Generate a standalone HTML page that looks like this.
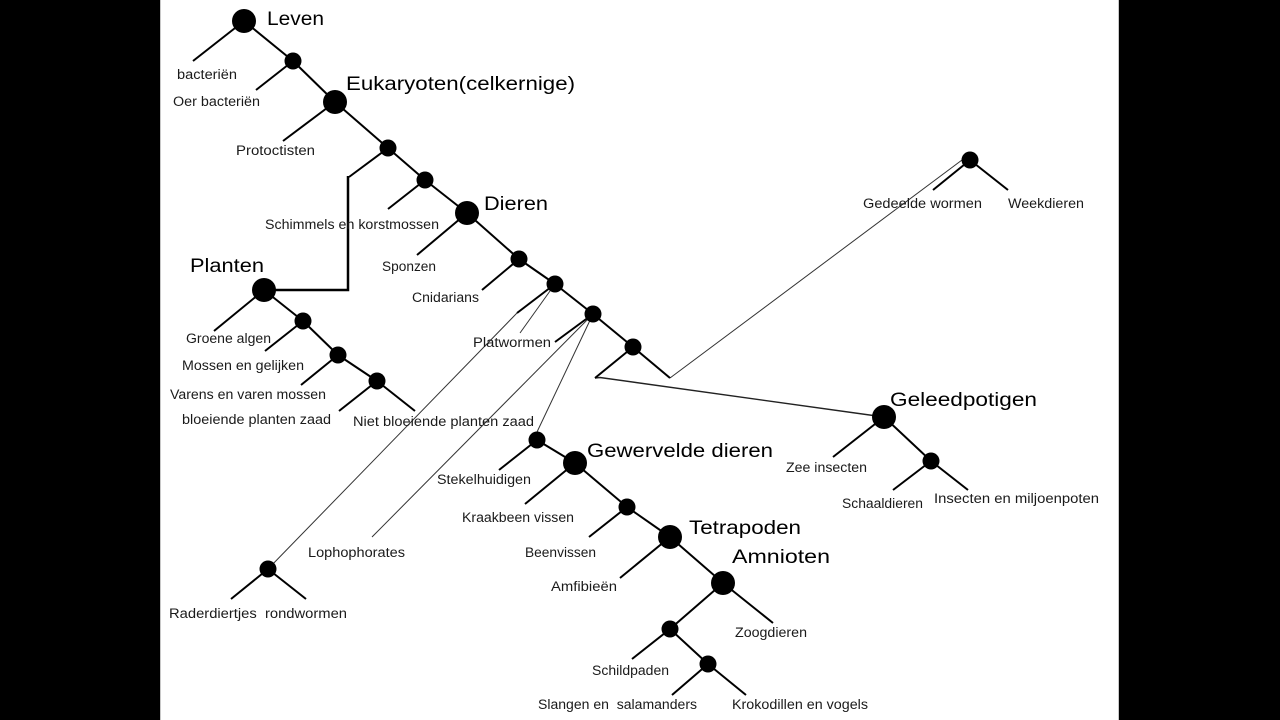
<!DOCTYPE html>
<html>
<head>
<meta charset="utf-8">
<style>
  html,body{margin:0;padding:0;background:#000;}
  body{width:1280px;height:720px;overflow:hidden;position:relative;}
  svg{position:absolute;left:0;top:0;}
  .s{font-family:"Liberation Sans",sans-serif;font-size:13.5px;fill:#1a1a1a;}
  .b{font-family:"Liberation Sans",sans-serif;font-size:19px;fill:#000;}
</style>
</head>
<body>
<svg width="1280" height="720" viewBox="0 0 1280 720" xmlns="http://www.w3.org/2000/svg">
  <rect x="0" y="0" width="1280" height="720" fill="#000"/>
  <rect x="160" y="0" width="959" height="720" fill="#fff"/>
  <line x1="160.5" y1="0" x2="160.5" y2="720" stroke="#c8c8c8" stroke-width="1"/>
  <line x1="1118.5" y1="0" x2="1118.5" y2="720" stroke="#c8c8c8" stroke-width="1"/>

  <!-- thin connectors -->
  <g stroke="#333" stroke-width="1" fill="none">
    <line x1="517" y1="313" x2="268" y2="569"/>
    <line x1="555" y1="284" x2="520" y2="333"/>
    <line x1="593" y1="314" x2="372" y2="537"/>
    <line x1="593" y1="314" x2="537" y2="432"/>
    <line x1="670" y1="378" x2="962" y2="160"/>
  </g>
  <g stroke="#222" stroke-width="1.4" fill="none">
    <polyline points="595,378 600,377.5 884,417"/>
  </g>

  <!-- thick lines -->
  <g stroke="#000" stroke-width="2" stroke-linecap="butt" fill="none">
    <line x1="244" y1="21" x2="193" y2="61"/>
    <line x1="244" y1="21" x2="293" y2="61"/>
    <line x1="293" y1="61" x2="256" y2="90"/>
    <line x1="293" y1="61" x2="335" y2="102"/>
    <line x1="335" y1="102" x2="283" y2="141"/>
    <line x1="335" y1="102" x2="388" y2="148"/>
    <line x1="388" y1="148" x2="349" y2="177"/>
    <line x1="388" y1="148" x2="425" y2="180"/>
    <line x1="425" y1="180" x2="388" y2="209"/>
    <line x1="425" y1="180" x2="467" y2="213"/>
    <line x1="467" y1="213" x2="417" y2="255"/>
    <line x1="467" y1="213" x2="519" y2="259"/>
    <line x1="519" y1="259" x2="482" y2="290"/>
    <line x1="519" y1="259" x2="555" y2="284"/>
    <line x1="555" y1="284" x2="517" y2="313"/>
    <line x1="555" y1="284" x2="593" y2="314"/>
    <line x1="593" y1="314" x2="555" y2="342"/>
    <line x1="593" y1="314" x2="633" y2="347"/>
    <line x1="633" y1="347" x2="595" y2="378"/>
    <line x1="633" y1="347" x2="670" y2="378"/>

    <line x1="264" y1="290" x2="214" y2="331"/>
    <line x1="264" y1="290" x2="303" y2="321"/>
    <line x1="303" y1="321" x2="265" y2="351"/>
    <line x1="303" y1="321" x2="338" y2="355"/>
    <line x1="338" y1="355" x2="301" y2="385"/>
    <line x1="338" y1="355" x2="377" y2="381"/>
    <line x1="377" y1="381" x2="339" y2="411"/>
    <line x1="377" y1="381" x2="415" y2="411"/>

    <line x1="537" y1="440" x2="499" y2="470"/>
    <line x1="537" y1="440" x2="575" y2="463"/>
    <line x1="575" y1="463" x2="525" y2="504"/>
    <line x1="575" y1="463" x2="627" y2="507"/>
    <line x1="627" y1="507" x2="589" y2="537"/>
    <line x1="627" y1="507" x2="670" y2="537"/>
    <line x1="670" y1="537" x2="620" y2="578"/>
    <line x1="670" y1="537" x2="723" y2="583"/>
    <line x1="723" y1="583" x2="773" y2="623"/>
    <line x1="723" y1="583" x2="670" y2="629"/>
    <line x1="670" y1="629" x2="632" y2="659"/>
    <line x1="670" y1="629" x2="708" y2="664"/>
    <line x1="708" y1="664" x2="672" y2="695"/>
    <line x1="708" y1="664" x2="746" y2="695"/>

    <line x1="268" y1="569" x2="231" y2="599"/>
    <line x1="268" y1="569" x2="306" y2="599"/>

    <line x1="970" y1="160" x2="933" y2="190"/>
    <line x1="970" y1="160" x2="1008" y2="190"/>

    <line x1="884" y1="417" x2="833" y2="457"/>
    <line x1="884" y1="417" x2="931" y2="461"/>
    <line x1="931" y1="461" x2="893" y2="490"/>
    <line x1="931" y1="461" x2="968" y2="490"/>
  </g>
  <polyline points="348,176 348,290 264,290" stroke="#000" stroke-width="2.5" fill="none"/>

  <!-- nodes -->
  <g fill="#000">
    <circle cx="244" cy="21" r="12"/>
    <circle cx="293" cy="61" r="8.5"/>
    <circle cx="335" cy="102" r="12"/>
    <circle cx="388" cy="148" r="8.5"/>
    <circle cx="425" cy="180" r="8.5"/>
    <circle cx="467" cy="213" r="12"/>
    <circle cx="519" cy="259" r="8.5"/>
    <circle cx="555" cy="284" r="8.5"/>
    <circle cx="593" cy="314" r="8.5"/>
    <circle cx="633" cy="347" r="8.5"/>
    <circle cx="264" cy="290" r="12"/>
    <circle cx="303" cy="321" r="8.5"/>
    <circle cx="338" cy="355" r="8.5"/>
    <circle cx="377" cy="381" r="8.5"/>
    <circle cx="537" cy="440" r="8.5"/>
    <circle cx="575" cy="463" r="12"/>
    <circle cx="627" cy="507" r="8.5"/>
    <circle cx="670" cy="537" r="12"/>
    <circle cx="723" cy="583" r="12"/>
    <circle cx="670" cy="629" r="8.5"/>
    <circle cx="708" cy="664" r="8.5"/>
    <circle cx="268" cy="569" r="8.5"/>
    <circle cx="970" cy="160" r="8.5"/>
    <circle cx="884" cy="417" r="12"/>
    <circle cx="931" cy="461" r="8.5"/>
  </g>

  <!-- big labels -->
  <text class="b" x="267" y="25" textLength="57" lengthAdjust="spacingAndGlyphs">Leven</text>
  <text class="b" x="346" y="90" textLength="229" lengthAdjust="spacingAndGlyphs">Eukaryoten(celkernige)</text>
  <text class="b" x="484" y="210" textLength="64" lengthAdjust="spacingAndGlyphs">Dieren</text>
  <text class="b" x="190" y="272" textLength="74" lengthAdjust="spacingAndGlyphs">Planten</text>
  <text class="b" x="587" y="457" textLength="186" lengthAdjust="spacingAndGlyphs">Gewervelde dieren</text>
  <text class="b" x="689" y="534" textLength="112" lengthAdjust="spacingAndGlyphs">Tetrapoden</text>
  <text class="b" x="732" y="563" textLength="98" lengthAdjust="spacingAndGlyphs">Amnioten</text>
  <text class="b" x="890" y="406" textLength="147" lengthAdjust="spacingAndGlyphs">Geleedpotigen</text>

  <!-- small labels -->
  <text class="s" x="177" y="79" textLength="60" lengthAdjust="spacingAndGlyphs">bacteriën</text>
  <text class="s" x="173" y="106" textLength="87" lengthAdjust="spacingAndGlyphs">Oer bacteriën</text>
  <text class="s" x="236" y="155" textLength="79" lengthAdjust="spacingAndGlyphs">Protoctisten</text>
  <text class="s" x="265" y="229" textLength="174" lengthAdjust="spacingAndGlyphs">Schimmels en korstmossen</text>
  <text class="s" x="382" y="271" textLength="54" lengthAdjust="spacingAndGlyphs">Sponzen</text>
  <text class="s" x="412" y="302" textLength="67" lengthAdjust="spacingAndGlyphs">Cnidarians</text>
  <text class="s" x="473" y="347" textLength="78" lengthAdjust="spacingAndGlyphs">Platwormen</text>
  <text class="s" x="186" y="343" textLength="85" lengthAdjust="spacingAndGlyphs">Groene algen</text>
  <text class="s" x="182" y="370" textLength="122" lengthAdjust="spacingAndGlyphs">Mossen en gelijken</text>
  <text class="s" x="170" y="399" textLength="156" lengthAdjust="spacingAndGlyphs">Varens en varen mossen</text>
  <text class="s" x="182" y="424" textLength="149" lengthAdjust="spacingAndGlyphs">bloeiende planten zaad</text>
  <text class="s" x="353" y="426" textLength="181" lengthAdjust="spacingAndGlyphs">Niet bloeiende planten zaad</text>
  <text class="s" x="437" y="484" textLength="94" lengthAdjust="spacingAndGlyphs">Stekelhuidigen</text>
  <text class="s" x="462" y="522" textLength="112" lengthAdjust="spacingAndGlyphs">Kraakbeen vissen</text>
  <text class="s" x="525" y="557" textLength="71" lengthAdjust="spacingAndGlyphs">Beenvissen</text>
  <text class="s" x="551" y="591" textLength="66" lengthAdjust="spacingAndGlyphs">Amfibieën</text>
  <text class="s" x="735" y="637" textLength="72" lengthAdjust="spacingAndGlyphs">Zoogdieren</text>
  <text class="s" x="592" y="675" textLength="77" lengthAdjust="spacingAndGlyphs">Schildpaden</text>
  <text class="s" x="538" y="709" textLength="159" lengthAdjust="spacingAndGlyphs">Slangen en&#160; salamanders</text>
  <text class="s" x="732" y="709" textLength="136" lengthAdjust="spacingAndGlyphs">Krokodillen en vogels</text>
  <text class="s" x="169" y="618" textLength="178" lengthAdjust="spacingAndGlyphs">Raderdiertjes&#160; rondwormen</text>
  <text class="s" x="308" y="557" textLength="97" lengthAdjust="spacingAndGlyphs">Lophophorates</text>
  <text class="s" x="863" y="208" textLength="119" lengthAdjust="spacingAndGlyphs">Gedeelde wormen</text>
  <text class="s" x="1008" y="208" textLength="76" lengthAdjust="spacingAndGlyphs">Weekdieren</text>
  <text class="s" x="786" y="472" textLength="81" lengthAdjust="spacingAndGlyphs">Zee insecten</text>
  <text class="s" x="842" y="508" textLength="81" lengthAdjust="spacingAndGlyphs">Schaaldieren</text>
  <text class="s" x="934" y="503" textLength="165" lengthAdjust="spacingAndGlyphs">Insecten en miljoenpoten</text>
</svg>
</body>
</html>
